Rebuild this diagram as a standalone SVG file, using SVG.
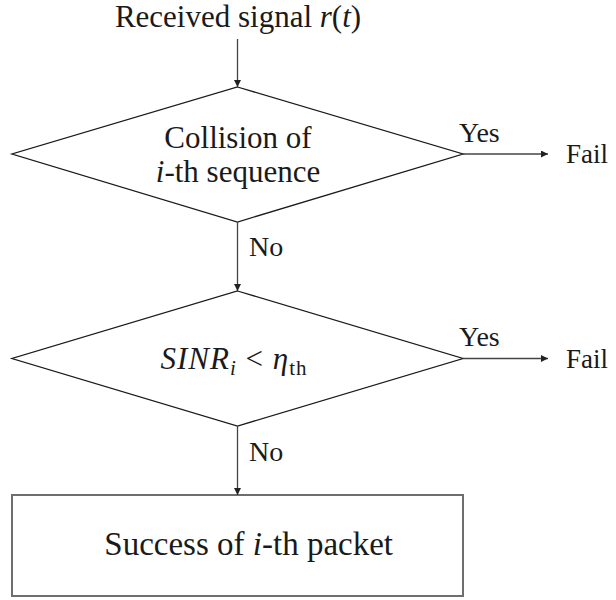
<svg xmlns="http://www.w3.org/2000/svg" width="616" height="600" viewBox="0 0 616 600">
<defs>
<style>
text{font-family:"Liberation Serif","Times New Roman",serif;fill:#1a1a1a}
.m{font-style:italic}
.shape{fill:none;stroke:#1a1a1a;stroke-width:1.3}
.box{fill:none;stroke:#6e6e6e;stroke-width:2}
.conn{fill:none;stroke:#444;stroke-width:1.3}
.lbl{font-size:28px}
</style>
<marker id="ah" viewBox="0 0 10 10" refX="10" refY="5" markerWidth="7" markerHeight="7" markerUnits="userSpaceOnUse" orient="auto">
<path d="M0,0 L10,5 L0,10 z" fill="#222"/>
</marker>
</defs>
<g id="start">
<text x="238" y="27" font-size="31" text-anchor="middle">Received signal <tspan class="m">r</tspan>(<tspan class="m">t</tspan>)</text>
</g>
<g id="decision1">
<polygon class="shape" points="237.5,87 463,154 237.5,222 12,154"/>
<text x="238" y="148" font-size="31" text-anchor="middle">Collision of</text>
<text x="238" y="182" font-size="31" text-anchor="middle"><tspan class="m">i</tspan>-th sequence</text>
</g>
<g id="decision2">
<polygon class="shape" points="237.5,291 463,358.5 237.5,426 12,358.5"/>
<text x="234" y="369" font-size="31" text-anchor="middle" letter-spacing="1"><tspan class="m">SINR</tspan><tspan class="m" font-size="21" dy="6">i</tspan><tspan dy="-6"> &lt; </tspan><tspan class="m">η</tspan><tspan font-size="21" dy="6">th</tspan></text>
</g>
<g id="fail1"><text x="566" y="163" font-size="27">Fail</text></g>
<g id="fail2"><text x="566" y="368" font-size="27">Fail</text></g>
<g id="success">
<rect class="box" x="12" y="495" width="451" height="101"/>
<text x="393" y="555" font-size="33" text-anchor="end">Success of <tspan class="m">i</tspan>-th packet</text>
</g>
<g id="connectors">
<line class="conn" x1="237.5" y1="39" x2="237.5" y2="87" marker-end="url(#ah)"/>
<line class="conn" x1="463" y1="154" x2="548" y2="154" marker-end="url(#ah)"/>
<line class="conn" x1="237.5" y1="222" x2="237.5" y2="291" marker-end="url(#ah)"/>
<line class="conn" x1="463" y1="358.5" x2="548" y2="358.5" marker-end="url(#ah)"/>
<line class="conn" x1="237.5" y1="426" x2="237.5" y2="495" marker-end="url(#ah)"/>
<text class="lbl" x="459" y="142">Yes</text>
<text class="lbl" x="459" y="346">Yes</text>
<text class="lbl" x="249" y="256">No</text>
<text class="lbl" x="249" y="461">No</text>
</g>
</svg>
